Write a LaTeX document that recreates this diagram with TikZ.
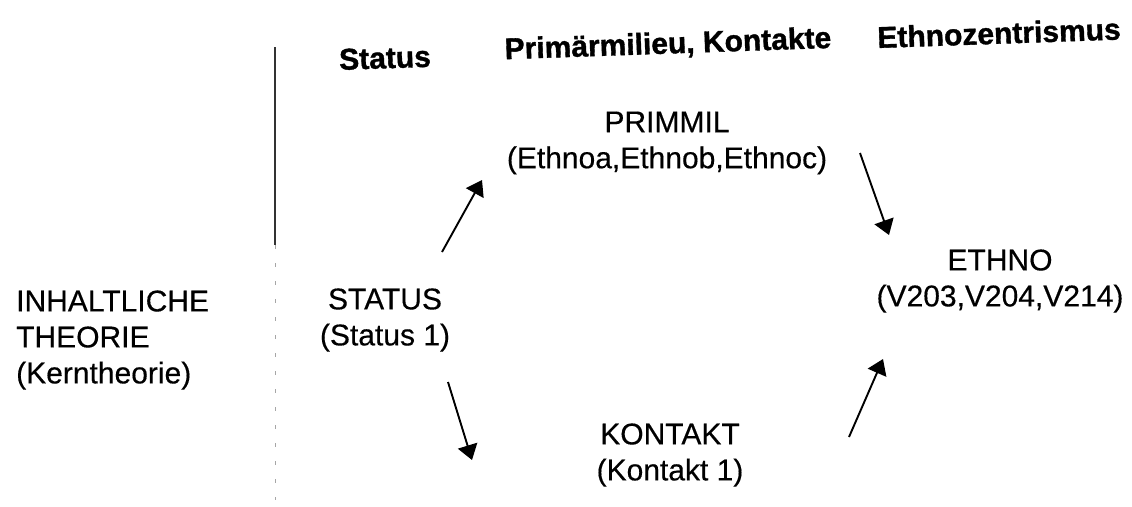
\documentclass[tikz,border=0pt]{standalone}
\usepackage{fontspec}
\setmainfont{Liberation Sans}
\newfontfamily\bodyfont[FakeBold=0.4]{Liberation Sans}
\newfontfamily\headfont[FakeBold=1.2]{Liberation Sans Bold}
\usetikzlibrary{arrows.meta}
\begin{document}
\begin{tikzpicture}[x=1pt,y=-1pt,
  txt/.style={font=\bodyfont\fontsize{30}{36}\selectfont, align=center, inner sep=0pt},
  head/.style={font=\headfont\fontsize{30}{36}\selectfont, inner sep=0pt, rotate=2},
  arr/.style={line width=1.9pt, -{Triangle[width=20pt,length=15pt]}},
  divider/.style={line width=1.2pt, black!80},
  faint/.style={line width=1pt, black!35, dash pattern=on 4pt off 14pt}]
\useasboundingbox (0,0) rectangle (1132,506);
% headers
\node[head] (hstatus) at (385,58) {Status};
\node[head] (hprim) at (668,45) {Primärmilieu, Kontakte};
\node[head] (hethno) at (999,33) {Ethnozentrismus};
% left label
\node[txt, align=left, anchor=west] (theory) at (16,340) {INHALTLICHE\\THEORIE\\(Kerntheorie)};
% divider
\coordinate (d1) at (275,47);
\coordinate (d2) at (275,245);
\coordinate (d3) at (275,500);
\draw[divider] (d1) -- (d2);
\draw[faint] (d2) -- (d3);
% variables
\node[txt] (status) at (385,320) {STATUS\\(Status 1)};
\node[txt] (primmil) at (667,143) {PRIMMIL\\(Ethnoa,Ethnob,Ethnoc)};
\node[txt] (kontakt) at (670,455) {KONTAKT\\(Kontakt 1)};
\node[txt] (ethno) at (1000,281) {ETHNO\\(V203,V204,V214)};
% arrow ends
\coordinate (a1s) at (442,252); \coordinate (a1e) at (482,180);
\coordinate (a2s) at (860,153); \coordinate (a2e) at (889,235);
\coordinate (a3s) at (448,382); \coordinate (a3e) at (472,460);
\coordinate (a4s) at (849,437); \coordinate (a4e) at (883,359);
\draw[arr] (a1s) -- (a1e);
\draw[arr] (a2s) -- (a2e);
\draw[arr] (a3s) -- (a3e);
\draw[arr] (a4s) -- (a4e);
\end{tikzpicture}
\end{document}
